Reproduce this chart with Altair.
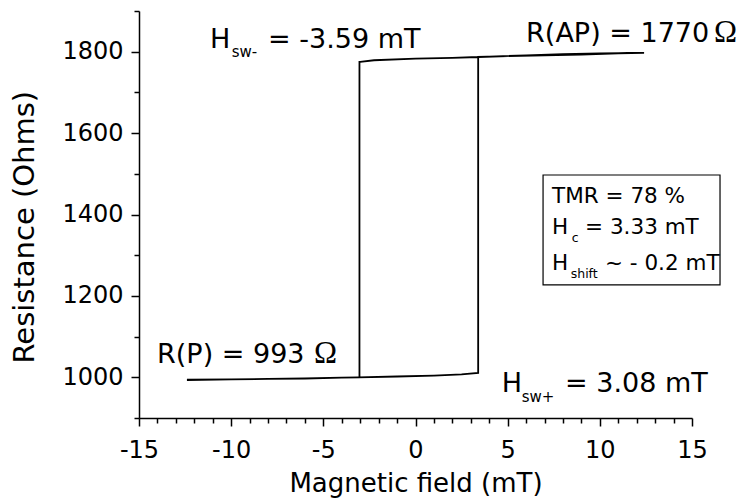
import altair as alt
import pandas as pd

# ---- hysteresis loop ----
field_sweep_up = [-12.4, -10, -8, -6, -4, -3.1, -1, 1, 2.5, 3.4, 3.4, 5, 7, 9, 11, 12.4]
res_sweep_up = [994, 995, 996, 997, 999, 1000, 1002, 1004, 1007, 1011, 1787, 1789, 1791, 1793, 1796, 1797]
field_sweep_down = [12.4, 10, 8, 6, 4, 3.4, 2, 0, -2.25, -3.0, -3.04, -3.04, -4, -6, -8, -10, -12.4]
res_sweep_down = [1797, 1796, 1794, 1791, 1788, 1787, 1785, 1783, 1779, 1775, 1775, 1000, 999, 997, 996, 995, 993]

# ---- axes: major + minor tick values ----
x_ticks = list(range(-15, 16))
y_ticks = list(range(900, 1901, 100))

# ---- annotations (sans text) ----
ann_text = ["H", "sw-", "= -3.59 mT",
            "R(AP) = 1770", "R(P) = 993",
            "H", "sw+", "= 3.08 mT",
            "TMR = 78 %", "H", "c", "= 3.33 mT", "H", "shift", "~ - 0.2 mT"]
ann_x = [-11.15, -9.97, -8.0,
         6.0, -14.02,
         4.68, 5.76, 8.11,
         7.41, 7.41, 8.48, 9.20, 7.41, 8.42, 10.28]
ann_y = [1808, 1788, 1808,
         1824.6, 1036,
         964.6, 940, 964.6,
         1429, 1352, 1333, 1352, 1263.6, 1243, 1263.6]
ann_size = [27, 15, 27,
            27, 27,
            27, 15, 27,
            21.5, 21.5, 12.5, 21.5, 21.5, 12.5, 21.5]

# ---- Ohm symbols ----
ohm_text = ["Ω", "Ω"]
ohm_x = [16.2, -5.5]
ohm_y = [1824.6, 1036]

# ---- info box ----
box_x = [6.92]
box_x2 = [16.52]
box_y = [1497]
box_y2 = [1227]

FONT = "DejaVu Sans"

loop = pd.DataFrame({
    "field": field_sweep_up + field_sweep_down,
    "res": res_sweep_up + res_sweep_down,
    "order": list(range(len(field_sweep_up) + len(field_sweep_down))),
})
ann = pd.DataFrame({"x": ann_x, "y": ann_y, "text": ann_text, "size": ann_size})
ohm = pd.DataFrame({"x": ohm_x, "y": ohm_y, "text": ohm_text})
box = pd.DataFrame({"x": box_x, "x2": box_x2, "y": box_y, "y2": box_y2})

xs = alt.Scale(domain=[-15, 15], nice=False, zero=False)
ys = alt.Scale(domain=[900, 1900], nice=False, zero=False)

x_axis = alt.Axis(orient="bottom", values=x_ticks, tickCount=len(x_ticks),
                  tickSize={"condition": {"test": "datum.value % 5 === 0", "value": 8}, "value": 5},
                  tickWidth=1.5, tickColor="black",
                  domainColor="black", domainWidth=1.5, grid=False,
                  labelExpr="datum.value % 5 === 0 ? '' + datum.value : ''",
                  labelFont=FONT, labelFontSize=24, labelColor="black", labelPadding=31,
                  labelBaseline="alphabetic", labelFlush=False, labelOverlap=False,
                  title="Magnetic field (mT)", titleFont=FONT, titleFontSize=26,
                  titleFontWeight="normal", titleColor="black", titleY=73,
                  titleBaseline="alphabetic")
y_axis = alt.Axis(orient="left", values=y_ticks, tickCount=len(y_ticks),
                  tickSize={"condition": {"test": "datum.value % 200 === 0", "value": 8}, "value": 5},
                  tickWidth=1.5, tickColor="black",
                  domainColor="black", domainWidth=1.5, grid=False,
                  labelExpr="datum.value % 200 === 0 ? '' + datum.value : ''",
                  labelFont=FONT, labelFontSize=24, labelColor="black", labelPadding=8,
                  labelOverlap=False,
                  title="Resistance (Ohms)", titleFont=FONT, titleFontSize=29,
                  titleFontWeight="normal", titleColor="black", titleAngle=270,
                  titleX=-105.7, titleY=215.7, titleBaseline="alphabetic", titleAlign="center")

line = alt.Chart(loop).mark_line(color="black", strokeWidth=1.8).encode(
    x=alt.X("field:Q", scale=xs, axis=x_axis),
    y=alt.Y("res:Q", scale=ys, axis=y_axis),
    order="order:Q",
)

rect = alt.Chart(box).mark_rect(fill="white", stroke="black", strokeWidth=1.2).encode(
    x=alt.X("x:Q", scale=xs), x2="x2:Q",
    y=alt.Y("y:Q", scale=ys), y2="y2:Q",
)

texts = alt.Chart(ann).mark_text(align="left", baseline="alphabetic", font=FONT, color="black").encode(
    x=alt.X("x:Q", scale=xs),
    y=alt.Y("y:Q", scale=ys),
    text="text:N",
    size=alt.Size("size:Q", scale=None, legend=None),
)

ohms = alt.Chart(ohm).mark_text(align="left", baseline="alphabetic", font="Liberation Serif",
                                fontSize=31, color="black").encode(
    x=alt.X("x:Q", scale=xs),
    y=alt.Y("y:Q", scale=ys),
    text="text:N",
)

chart = alt.layer(line, rect, texts, ohms).properties(
    width=553, height=407,
    autosize=alt.AutoSizeParams(type="none"),
    padding={"left": 139, "top": 11, "right": 56, "bottom": 81},
    background="white",
).configure_view(stroke=None)

chart.save("out.html", embed_options={"renderer": "svg", "actions": False})
